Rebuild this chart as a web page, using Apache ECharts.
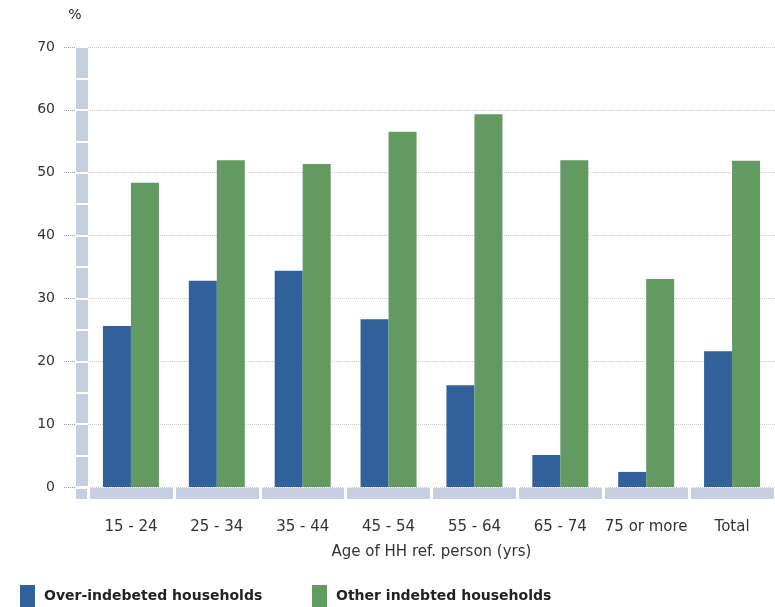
<!DOCTYPE html>
<html>
<head>
<meta charset="utf-8">
<script src="https://cdn.jsdelivr.net/npm/echarts@6/dist/echarts.min.js"></script>
<style>
  html, body { margin: 0; padding: 0; background: #fff; }
  #chart { width: 775px; height: 607px; }
</style>
</head>
<body>
<div id="chart"></div>
<script>
const categories = ['15 - 24', '25 - 34', '35 - 44', '45 - 54', '55 - 64', '65 - 74', '75 or more', 'Total'];
const overIndebted = [25.6, 32.8, 34.4, 26.7, 16.2, 5.1, 2.4, 21.6];
const otherIndebted = [48.4, 52.0, 51.4, 56.5, 59.3, 52.0, 33.1, 51.9];
const seriesNames = ['Over-indebeted households', 'Other indebted households'];

const font = 'DejaVu Sans, Verdana, sans-serif';
const band = '#c5cfe0';

const chart = echarts.init(document.getElementById('chart'));

const legendText = { fontFamily: font, fontSize: 14, fontWeight: 'bold', color: '#222', padding: [0, 0, 0, 4] };

const option = {
  animation: false,
  textStyle: { fontFamily: font },
  grid: { left: 88, right: 0, top: 47, bottom: 120 },
  legend: [
    {
      data: [seriesNames[0]],
      left: 20, top: 585, padding: 0,
      icon: 'rect', itemWidth: 15, itemHeight: 22,
      textStyle: legendText
    },
    {
      data: [seriesNames[1]],
      left: 312, top: 585, padding: 0,
      icon: 'rect', itemWidth: 15, itemHeight: 22,
      textStyle: legendText
    }
  ],
  xAxis: [
    {
      type: 'category',
      data: categories,
      position: 'bottom',
      offset: 6,
      z: 1,
      name: 'Age of HH ref. person (yrs)',
      nameLocation: 'middle',
      nameGap: 52,
      nameTextStyle: { fontFamily: font, fontSize: 15, color: '#333' },
      axisLine: { onZero: false, lineStyle: { color: band, width: 11, cap: 'butt' } },
      axisTick: { show: false },
      axisLabel: { interval: 0, margin: 27, fontFamily: font, fontSize: 15, color: '#333' }
    },
    {
      // white breaks between category segments of the band
      type: 'category',
      data: categories,
      position: 'bottom',
      offset: 0,
      z: 2,
      axisLine: { show: false, onZero: false },
      axisTick: { show: true, interval: 0, length: 12, lineStyle: { color: '#fff', width: 3 } },
      axisLabel: { show: false }
    }
  ],
  yAxis: [
    {
      type: 'value',
      min: 0, max: 70, interval: 10,
      position: 'left',
      offset: 13,
      z: 0,
      name: '%',
      nameLocation: 'end',
      nameGap: 25,
      nameTextStyle: { fontFamily: font, fontSize: 14, color: '#222', align: 'center' },
      axisLine: { show: false },
      axisTick: { show: true, length: 12, lineStyle: { color: '#99a', type: 'dotted', width: 1 } },
      axisLabel: { margin: 20, fontFamily: font, fontSize: 14, color: '#333' },
      splitLine: { show: true, lineStyle: { color: '#cccccc', type: 'dotted', width: 1 } }
    },
    {
      // band along the value axis
      type: 'value',
      min: 0, max: 70, interval: 10,
      position: 'left',
      offset: 6,
      z: 1,
      axisLine: { show: true, lineStyle: { color: band, width: 12, cap: 'butt' } },
      axisTick: { show: false },
      axisLabel: { show: false },
      splitLine: { show: false }
    },
    {
      // white breaks every 5 units in the band
      type: 'value',
      min: 0, max: 70, interval: 5,
      position: 'left',
      offset: 0,
      z: 2,
      axisLine: { show: false },
      axisTick: { show: true, length: 12, lineStyle: { color: '#fff', width: 2 } },
      axisLabel: { show: false },
      splitLine: { show: false }
    }
  ],
  graphic: [
    { type: 'rect', left: 76, top: 489, shape: { width: 12, height: 10 }, style: { fill: band } }
  ],
  series: [
    {
      name: seriesNames[0],
      type: 'bar',
      data: overIndebted,
      barWidth: 28,
      barGap: '0%',
      itemStyle: { color: '#31609a' }
    },
    {
      name: seriesNames[1],
      type: 'bar',
      data: otherIndebted,
      barWidth: 28,
      barGap: '0%',
      itemStyle: { color: '#629a62' }
    }
  ]
};

chart.setOption(option);
</script>
</body>
</html>
